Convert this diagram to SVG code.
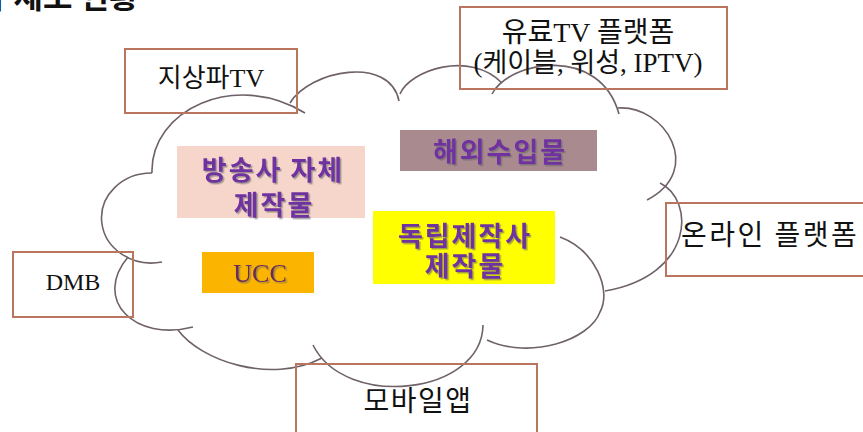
<svg xmlns="http://www.w3.org/2000/svg" width="863" height="432" viewBox="0 0 863 432">
<style>
.box{fill:none;stroke:#b9755d;stroke-width:2}
.cl{fill:none;stroke:#6f6169;stroke-width:1.6}
.lbl{font-family:'Liberation Serif','Noto Sans CJK KR',serif;fill:#111}
.ks{font-family:'Noto Sans CJK KR',sans-serif;fill:#111}
.pt{font-family:'Noto Sans CJK KR',sans-serif;font-weight:bold;font-size:27px;fill:#7030a0;letter-spacing:2px;text-anchor:middle}
</style>
<defs>
<filter id="sh" x="-10%" y="-20%" width="130%" height="150%">
<feDropShadow dx="1.5" dy="1.5" stdDeviation="0.7" flood-color="#666" flood-opacity="0.6"/>
</filter>
</defs>
<rect width="863" height="432" fill="#fff"/>
<text x="-16" y="8" font-family="'Noto Sans CJK KR',sans-serif" font-weight="bold" font-size="32" fill="#111">구제조 현황</text>
<g id="cloud">
<path class="cl" d="M162,262 A50,45 0 1 1 152,173"/>
<path class="cl" d="M152,173 C150,110 235,70 305,113"/>
<path class="cl" d="M290,103 C310,70 390,55 399,101"/>
<path class="cl" d="M400,94 C410,70 470,50 502,83"/>
<path class="cl" d="M492,94 C510,60 600,45 619,114"/>
<path class="cl" d="M618,108 C665,105 705,170 647,200"/>
<path class="cl" d="M660,183 C695,200 695,275 605,291"/>
<path class="cl" d="M560,237 C595,250 612,290 600,312 C590,340 530,360 487,340"/>
<path class="cl" d="M483,325 C482,395 345,410 313,345"/>
<path class="cl" d="M178,330 C200,360 270,385 322,358"/>
<path class="cl" d="M193,327 C135,342 92,300 128,257"/>
</g>
<g id="n-terrestrial">
<rect class="box" x="125" y="49" width="172" height="64"/>
<text class="lbl" x="211" y="87" font-size="26" text-anchor="middle">지상파TV</text>
</g>
<g id="n-paytv">
<rect class="box" x="460" y="7" width="267" height="82"/>
<text class="lbl" text-anchor="middle"><tspan x="588" y="42" font-size="28">유료TV 플랫폼</tspan><tspan x="588" y="72" font-size="27">(케이블, 위성, IPTV)</tspan></text>
</g>
<g id="n-dmb">
<rect class="box" x="13" y="252" width="120" height="65"/>
<text class="lbl" x="73" y="290" font-size="24" text-anchor="middle">DMB</text>
</g>
<g id="n-mobile">
<rect class="box" x="296" y="364" width="241" height="80"/>
<text class="ks" x="418" y="411" font-size="28" letter-spacing="1.5" text-anchor="middle">모바일앱</text>
</g>
<g id="n-online">
<rect class="box" x="666" y="203" width="210" height="73"/>
<text class="ks" x="681" y="245" font-size="28" letter-spacing="2.5">온라인 플랫폼</text>
</g>
<g id="n-broadcaster">
<rect x="177" y="146" width="188" height="72" fill="#f6d6cb"/>
<text class="pt" filter="url(#sh)"><tspan x="273" y="180">방송사 자체</tspan><tspan x="274" y="215">제작물</tspan></text>
</g>
<g id="n-foreign">
<rect x="400" y="130" width="197" height="41" fill="#a98b8f"/>
<text class="pt" x="500" y="162" filter="url(#sh)">해외수입물</text>
</g>
<g id="n-ucc">
<rect x="202" y="252" width="112" height="41" fill="#fbb500"/>
<text x="260" y="282" font-family="'Liberation Serif',serif" font-size="26" fill="#6b2b58" text-anchor="middle" filter="url(#sh)">UCC</text>
</g>
<g id="n-independent">
<rect x="373" y="211" width="182" height="73" fill="#ffff00"/>
<text class="pt" filter="url(#sh)"><tspan x="465" y="246">독립제작사</tspan><tspan x="465" y="276">제작물</tspan></text>
</g>
</svg>
